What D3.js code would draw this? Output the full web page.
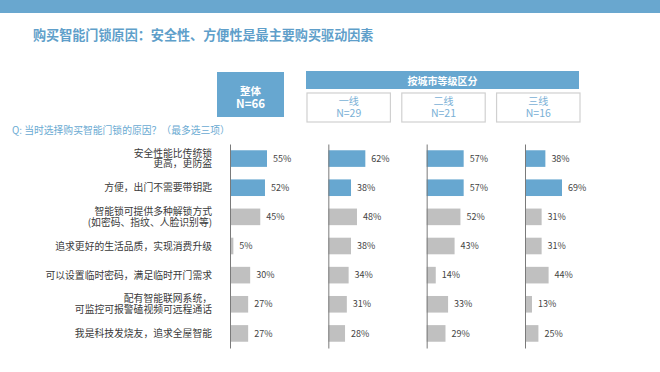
<!DOCTYPE html>
<html>
<head>
<meta charset="utf-8">
<script src="https://cdn.jsdelivr.net/npm/d3@7"></script>
<style>
  body { margin: 0; background: #fff; }
  svg text { font-family: "Noto Sans CJK SC", "Noto Sans", sans-serif; }
</style>
</head>
<body>
<div id="chart"></div>
<script>
// data
const categories = [
  '安全性能比传统锁\n更高，更防盗',
  '方便，出门不需要带钥匙',
  '智能锁可提供多种解锁方式\n(如密码、指纹、人脸识别等)',
  '追求更好的生活品质，实现消费升级',
  '可以设置临时密码，满足临时开门需求',
  '配有智能联网系统，\n可监控可报警磕视频可远程通话',
  '我是科技发烧友，追求全屋智能'
];
const groups = ['整体', '一线', '二线', '三线'];
const sampleSizes = ['N=66', 'N=29', 'N=21', 'N=16'];
const overall = [55, 52, 45, 5, 30, 27, 27];
const tier1 = [62, 38, 48, 38, 34, 31, 28];
const tier2 = [57, 57, 52, 43, 14, 33, 29];
const tier3 = [38, 69, 31, 31, 44, 13, 25];
const highlighted = [categories[0], categories[1]];
const title = '购买智能门锁原因：安全性、方便性是最主要购买驱动因素';
const question = 'Q: 当时选择购买智能门锁的原因？（最多选三项）';
const cityHeader = '按城市等级区分';

const series = [overall, tier1, tier2, tier3];

const W = 660, H = 372;
const blue = '#67a7d0', grey = '#c0c0c0';

const svg = d3.select('#chart').append('svg')
  .attr('width', W)
  .attr('height', H);

// top band
svg.append('rect')
  .attr('x', 0).attr('y', 0)
  .attr('width', W).attr('height', 13)
  .attr('fill', '#69a7cf');

// title
svg.append('text')
  .attr('x', 33).attr('y', 40)
  .style('font-size', '13.1px')
  .style('font-weight', 'bold')
  .style('fill', '#5f9fca')
  .text(title);

// question
svg.append('text')
  .attr('x', 12).attr('y', 134)
  .style('font-size', '9.8px')
  .style('fill', '#6aaad2')
  .text(question);

// scales
const y = d3.scaleBand()
  .domain(categories)
  .range([144, 348])
  .paddingInner(0.43)
  .paddingOuter(0.215);

const colX = d3.scalePoint()
  .domain(groups)
  .range([230, 525]);

// two-line header text in one element
function twoLines(x, y1, y2, a, b, size, color, weight) {
  const t = svg.append('text')
    .attr('text-anchor', 'middle')
    .style('fill', color)
    .style('font-weight', weight);
  t.append('tspan').attr('x', x).attr('y', y1).style('font-size', size[0]).text(a);
  t.append('tspan').attr('x', x).attr('y', y2).style('font-size', size[1]).text(b);
}

// header: overall box
const ovX = colX(groups[0]);
svg.append('rect')
  .attr('x', ovX - 13).attr('y', 72)
  .attr('width', 67).attr('height', 45)
  .attr('fill', blue);
twoLines(ovX + 20.5, 94.5, 107.5, groups[0], sampleSizes[0],
  ['10.5px', '11.5px'], '#fff', 'bold');

// header: city tiers
const cityBand = d3.scaleBand()
  .domain(groups.slice(1))
  .range([307, 580])
  .paddingInner(0.12);

svg.append('rect')
  .attr('x', 306).attr('y', 71)
  .attr('width', 273).attr('height', 18)
  .attr('fill', blue);
svg.append('text')
  .attr('x', 442.5).attr('y', 84.5)
  .attr('text-anchor', 'middle')
  .style('font-size', '10px').style('font-weight', 'bold').style('fill', '#fff')
  .text(cityHeader);

groups.slice(1).forEach((g, i) => {
  const bx = cityBand(g);
  const bw = cityBand.bandwidth();
  svg.append('rect')
    .attr('x', bx).attr('y', 93)
    .attr('width', bw).attr('height', 29)
    .attr('fill', '#fff')
    .attr('stroke', '#d0d0d0')
    .attr('stroke-width', 1.2);
  twoLines(bx + bw / 2, 104.5, 116.5, g, sampleSizes[i + 1],
    ['10px', '10.5px'], '#79b0d6', 'normal');
});

// category labels
const labels = svg.append('g');
categories.forEach(c => {
  const lines = c.split('\n');
  const cy = y(c) + y.bandwidth() / 2;
  const t = labels.append('text')
    .attr('text-anchor', 'end')
    .style('font-size', '9.8px')
    .style('fill', '#3a3a3a');
  lines.forEach((ln, j) => {
    t.append('tspan')
      .attr('x', 212)
      .attr('y', cy + 3.5 + (j - (lines.length - 1) / 2) * 10.8)
      .text(ln);
  });
});

// columns
groups.forEach((g, gi) => {
  const vals = series[gi];
  const x0 = colX(g);
  const x = d3.scaleLinear()
    .domain([0, d3.max(vals)])
    .range([0, 37]);

  const col = svg.append('g').attr('transform', `translate(${x0},0)`);

  col.selectAll('.bar')
    .data(categories)
    .enter()
    .append('rect')
    .attr('class', 'bar')
    .attr('x', 0)
    .attr('y', d => y(d))
    .attr('width', (d, i) => x(vals[i]))
    .attr('height', y.bandwidth())
    .attr('fill', d => highlighted.includes(d) ? blue : grey);

  col.selectAll('.value-label')
    .data(categories)
    .enter()
    .append('text')
    .attr('class', 'value-label')
    .attr('x', (d, i) => x(vals[i]) + 6)
    .attr('y', d => y(d) + y.bandwidth() / 2 + 3.2)
    .style('font-size', '9px')
    .style('fill', '#444')
    .text((d, i) => `${vals[i]}%`);

  // vertical axis line
  const axis = col.append('g')
    .call(d3.axisLeft(y).tickSize(0).tickSizeOuter(0).tickFormat(''));
  axis.select('.domain').attr('stroke', '#7a7a7a').attr('stroke-width', 1);
});
</script>
</body>
</html>
